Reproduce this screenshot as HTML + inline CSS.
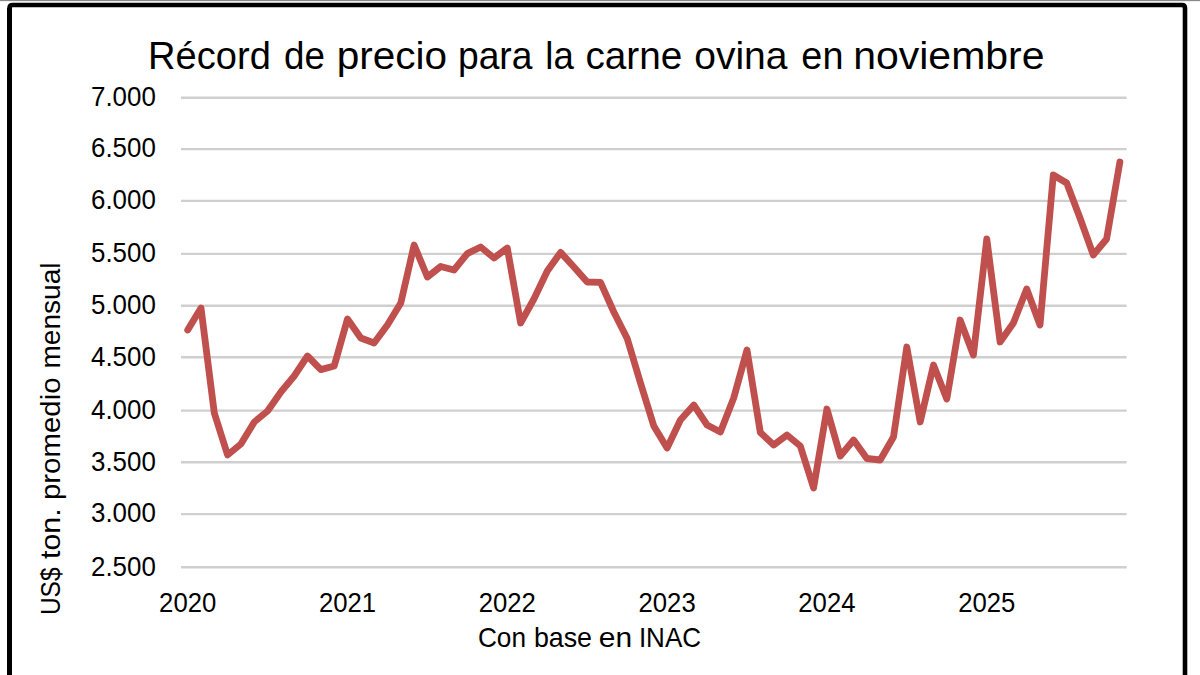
<!DOCTYPE html>
<html><head><meta charset="utf-8"><style>
html,body{margin:0;padding:0;background:#fff;width:1200px;height:675px;overflow:hidden}
svg{display:block}
text{font-family:"Liberation Sans",sans-serif;fill:#000}
</style></head><body>
<svg width="1200" height="675" viewBox="0 0 1200 675">
<rect x="0" y="0" width="1200" height="1" fill="#888"/>
<rect x="0" y="1" width="1200" height="1" fill="#eee"/>
<path d="M9.5,677 V8 Q9.5,5 12.5,5 H1182 Q1185,5 1185,8 V677" fill="none" stroke="#000" stroke-width="4.6"/>
<rect x="7" y="8" width="5" height="669" fill="#000"/>
<g font-size="38.5"><text x="148.11" y="68.5" textLength="122.72" lengthAdjust="spacingAndGlyphs">Récord</text><text x="283.95" y="68.5" textLength="40.91" lengthAdjust="spacingAndGlyphs">de</text><text x="336.65" y="68.5" textLength="110.39" lengthAdjust="spacingAndGlyphs">precio</text><text x="457.95" y="68.5" textLength="74.54" lengthAdjust="spacingAndGlyphs">para</text><text x="545.26" y="68.5" textLength="28.50" lengthAdjust="spacingAndGlyphs">la</text><text x="585.44" y="68.5" textLength="96.84" lengthAdjust="spacingAndGlyphs">carne</text><text x="694.21" y="68.5" textLength="93.29" lengthAdjust="spacingAndGlyphs">ovina</text><text x="801.37" y="68.5" textLength="42.08" lengthAdjust="spacingAndGlyphs">en</text><text x="853.18" y="68.5" textLength="191.37" lengthAdjust="spacingAndGlyphs">noviembre</text></g>
<g stroke="#cfcfcf" stroke-width="2.4"><line x1="181" x2="1126.6" y1="97.70" y2="97.70"/><line x1="181" x2="1126.6" y1="149.10" y2="149.10"/><line x1="181" x2="1126.6" y1="200.90" y2="200.90"/><line x1="181" x2="1126.6" y1="253.90" y2="253.90"/><line x1="181" x2="1126.6" y1="305.70" y2="305.70"/><line x1="181" x2="1126.6" y1="357.30" y2="357.30"/><line x1="181" x2="1126.6" y1="410.60" y2="410.60"/><line x1="181" x2="1126.6" y1="462.30" y2="462.30"/><line x1="181" x2="1126.6" y1="514.10" y2="514.10"/><line x1="181" x2="1126.6" y1="567.30" y2="567.30"/></g>
<g font-size="28"><text x="155.8" y="106.0" text-anchor="end" textLength="64.8" lengthAdjust="spacingAndGlyphs">7.000</text><text x="155.8" y="157.4" text-anchor="end" textLength="64.8" lengthAdjust="spacingAndGlyphs">6.500</text><text x="155.8" y="209.2" text-anchor="end" textLength="64.8" lengthAdjust="spacingAndGlyphs">6.000</text><text x="155.8" y="262.2" text-anchor="end" textLength="64.8" lengthAdjust="spacingAndGlyphs">5.500</text><text x="155.8" y="314.0" text-anchor="end" textLength="64.8" lengthAdjust="spacingAndGlyphs">5.000</text><text x="155.8" y="365.6" text-anchor="end" textLength="64.8" lengthAdjust="spacingAndGlyphs">4.500</text><text x="155.8" y="418.9" text-anchor="end" textLength="64.8" lengthAdjust="spacingAndGlyphs">4.000</text><text x="155.8" y="470.6" text-anchor="end" textLength="64.8" lengthAdjust="spacingAndGlyphs">3.500</text><text x="155.8" y="522.4" text-anchor="end" textLength="64.8" lengthAdjust="spacingAndGlyphs">3.000</text><text x="155.8" y="575.6" text-anchor="end" textLength="64.8" lengthAdjust="spacingAndGlyphs">2.500</text></g>
<g font-size="28"><text x="187.7" y="612" text-anchor="middle" textLength="57.2" lengthAdjust="spacingAndGlyphs">2020</text><text x="347.5" y="612" text-anchor="middle" textLength="57.2" lengthAdjust="spacingAndGlyphs">2021</text><text x="507.3" y="612" text-anchor="middle" textLength="57.2" lengthAdjust="spacingAndGlyphs">2022</text><text x="667.1" y="612" text-anchor="middle" textLength="57.2" lengthAdjust="spacingAndGlyphs">2023</text><text x="826.9" y="612" text-anchor="middle" textLength="57.2" lengthAdjust="spacingAndGlyphs">2024</text><text x="986.8" y="612" text-anchor="middle" textLength="57.2" lengthAdjust="spacingAndGlyphs">2025</text></g>
<g font-size="28"><text x="477.95" y="647.4" textLength="48.09" lengthAdjust="spacingAndGlyphs">Con</text><text x="533.88" y="647.4" textLength="58.17" lengthAdjust="spacingAndGlyphs">base</text><text x="598.89" y="647.4" textLength="33.33" lengthAdjust="spacingAndGlyphs">en</text><text x="638.89" y="647.4" textLength="62.16" lengthAdjust="spacingAndGlyphs">INAC</text></g>
<g font-size="28"><text transform="translate(60,615.07) rotate(-90)" x="0" y="0" textLength="47.60" lengthAdjust="spacingAndGlyphs">US$</text><text transform="translate(60,559.03) rotate(-90)" x="0" y="0" textLength="50.67" lengthAdjust="spacingAndGlyphs">ton.</text><text transform="translate(60,500.07) rotate(-90)" x="0" y="0" textLength="122.59" lengthAdjust="spacingAndGlyphs">promedio</text><text transform="translate(60,368.58) rotate(-90)" x="0" y="0" textLength="106.13" lengthAdjust="spacingAndGlyphs">mensual</text></g>
<polyline points="187.7,330 201.0,308 214.3,413 227.6,455 240.9,444 254.3,422 267.6,411 280.9,392 294.2,376 307.5,356 320.8,369.6 334.2,366 347.5,319 360.8,338 374.1,343 387.4,325 400.8,303 414.1,245 427.4,277 440.7,266.5 454.0,270 467.3,253.6 480.7,247 494.0,258 507.3,248 520.6,323 533.9,299 547.3,271 560.6,252.4 573.9,267 587.2,282 600.5,282.4 613.8,312 627.2,338.5 640.5,383 653.8,426 667.1,448 680.4,420 693.8,405 707.1,425 720.4,432 733.7,398 747.0,350 760.3,432.4 773.7,445 787.0,435 800.3,446 813.6,488 826.9,409 840.3,456 853.6,440 866.9,458.5 880.2,460 893.5,437 906.8,347 920.2,422 933.5,365 946.8,399 960.1,320 973.4,355 986.8,239 1000.1,342 1013.4,323 1026.7,289 1040.0,325 1053.3,175 1066.7,183 1080.0,218 1093.3,255 1106.6,239 1119.9,162" fill="none" stroke="#c0504d" stroke-width="6.8" stroke-linejoin="round" stroke-linecap="round"/>
</svg>
</body></html>
